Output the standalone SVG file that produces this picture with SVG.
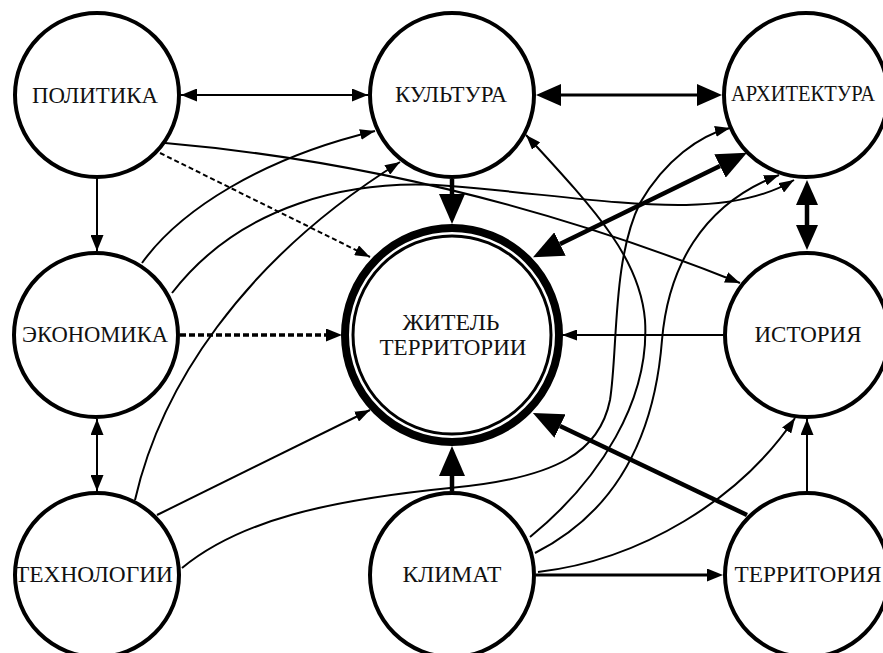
<svg xmlns="http://www.w3.org/2000/svg" width="883" height="653" viewBox="0 0 883 653">
<defs>
<style>
.node{fill:#fff;stroke:#000;stroke-width:4}
.lbl{font-family:"Liberation Serif","DejaVu Serif",serif;font-size:23px;fill:#111;text-anchor:middle}
.c{fill:none;stroke:#000;stroke-width:2}
.c3{fill:none;stroke:#000;stroke-width:3}
.thick{fill:none;stroke:#000;stroke-width:4.5}
.dash{fill:none;stroke:#000;stroke-width:2;stroke-dasharray:5 3}
.dash3{fill:none;stroke:#000;stroke-width:3.5;stroke-dasharray:6 3}
</style>
<marker id="mA" markerUnits="userSpaceOnUse" markerWidth="15" markerHeight="11" refX="15" refY="5.5" orient="auto-start-reverse"><path d="M0,0 L15,5.5 L0,11 z" fill="#000"/></marker>
<marker id="mM" markerUnits="userSpaceOnUse" markerWidth="16" markerHeight="13" refX="16" refY="6.5" orient="auto-start-reverse"><path d="M0,0 L16,6.5 L0,13 z" fill="#000"/></marker>
<marker id="mB" markerUnits="userSpaceOnUse" markerWidth="30" markerHeight="26" refX="0" refY="13" orient="auto-start-reverse"><path d="M0,0 L30,13 L0,26 z" fill="#000"/></marker>
<marker id="mC" markerUnits="userSpaceOnUse" markerWidth="25" markerHeight="22" refX="0" refY="11" orient="auto-start-reverse"><path d="M0,0 L25,11 L0,22 z" fill="#000"/></marker>
<marker id="mD" markerUnits="userSpaceOnUse" markerWidth="16" markerHeight="13" refX="0" refY="6.5" orient="auto-start-reverse"><path d="M0,0 L16,6.5 L0,13 z" fill="#000"/></marker>
</defs>
<rect x="0" y="0" width="883" height="653" fill="#fff"/>
<g id="connectors">
<path class="c" d="M181,95 L368,95" marker-start="url(#mM)" marker-end="url(#mM)"/>
<path class="c3" d="M561,95 L697,95" marker-start="url(#mC)" marker-end="url(#mC)"/>
<path class="c" d="M97,179 L97,251" marker-end="url(#mM)"/>
<path class="c" d="M97,419 L97,491" marker-start="url(#mM)" marker-end="url(#mM)"/>
<path class="thick" d="M452,179 L452,194" marker-end="url(#mB)"/>
<path class="thick" d="M452,491 L452,476" marker-end="url(#mB)"/>
<path class="thick" d="M807,205 L807,225" marker-start="url(#mC)" marker-end="url(#mC)"/>
<path class="c" d="M807,491 L807,419" marker-end="url(#mM)"/>
<path class="c3" d="M536,575 L707,575" marker-end="url(#mD)"/>
<path class="c" d="M723,335 L562,335" marker-end="url(#mA)"/>
<path class="dash3" d="M180,335 L326,335" marker-end="url(#mD)"/>
<path class="dash" d="M160,153 L370,257" marker-end="url(#mA)"/>
<path class="thick" d="M747,515 L560,426" marker-end="url(#mB)"/>
<path class="thick" d="M560,244 L720,166" marker-start="url(#mB)" marker-end="url(#mB)"/>
<path class="c" d="M165,143 Q453,168 740,283" marker-end="url(#mA)"/>
<path class="c" d="M142,263 C180,210 262,158 375,131" marker-end="url(#mA)"/>
<path class="c" d="M172,293 C240,205 350,178 450,186 C600,198 720,225 794,180" marker-end="url(#mA)"/>
<path class="c" d="M135,500 C160,390 240,262 400,162" marker-end="url(#mA)"/>
<path class="c" d="M157,515 L370,410" marker-end="url(#mA)"/>
<path class="c" d="M182,568 C240,520 330,500 450,488 C560,478 600,450 610,400 C618,350 612,260 640,203 C665,160 700,135 730,128" marker-end="url(#mA)"/>
<path class="c" d="M530,537 C600,480 650,400 645,320 C640,260 600,215 526,135" marker-end="url(#mA)"/>
<path class="c" d="M535,553 C620,510 655,430 662,340 C668,270 700,205 779,175" marker-end="url(#mA)"/>
<path class="c" d="M538,572 C640,560 740,500 795,418" marker-end="url(#mA)"/>
</g>
<g id="politika"><circle class="node" cx="97" cy="95" r="82"/><text class="lbl" x="95" y="103" textLength="126" lengthAdjust="spacingAndGlyphs">ПОЛИТИКА</text></g>
<g id="kultura"><circle class="node" cx="452" cy="95" r="82"/><text class="lbl" x="451" y="102" textLength="112" lengthAdjust="spacingAndGlyphs">КУЛЬТУРА</text></g>
<g id="arhitektura"><circle class="node" cx="806" cy="95" r="82"/><text class="lbl" x="803" y="101" textLength="144" lengthAdjust="spacingAndGlyphs">АРХИТЕКТУРА</text></g>
<g id="ekonomika"><circle class="node" cx="96" cy="335" r="82"/><text class="lbl" x="95" y="342" textLength="146" lengthAdjust="spacingAndGlyphs">ЭКОНОМИКА</text></g>
<g id="zhitel"><circle cx="452" cy="335" r="107" fill="#fff" stroke="#000" stroke-width="8"/><circle cx="452" cy="335" r="99" fill="none" stroke="#000" stroke-width="3"/><text class="lbl" x="451" y="330" textLength="97" lengthAdjust="spacingAndGlyphs">ЖИТЕЛЬ</text><text class="lbl" x="453" y="355" textLength="147" lengthAdjust="spacingAndGlyphs">ТЕРРИТОРИИ</text></g>
<g id="istoriya"><circle class="node" cx="807" cy="335" r="82"/><text class="lbl" x="808" y="342" textLength="107" lengthAdjust="spacingAndGlyphs">ИСТОРИЯ</text></g>
<g id="tehnologii"><circle class="node" cx="97" cy="575" r="82"/><text class="lbl" x="94" y="582" textLength="158" lengthAdjust="spacingAndGlyphs">ТЕХНОЛОГИИ</text></g>
<g id="klimat"><circle class="node" cx="452" cy="575" r="82"/><text class="lbl" x="452" y="582" textLength="99" lengthAdjust="spacingAndGlyphs">КЛИМАТ</text></g>
<g id="territoriya"><circle class="node" cx="807" cy="575" r="82"/><text class="lbl" x="808" y="582" textLength="147" lengthAdjust="spacingAndGlyphs">ТЕРРИТОРИЯ</text></g>
</svg>
